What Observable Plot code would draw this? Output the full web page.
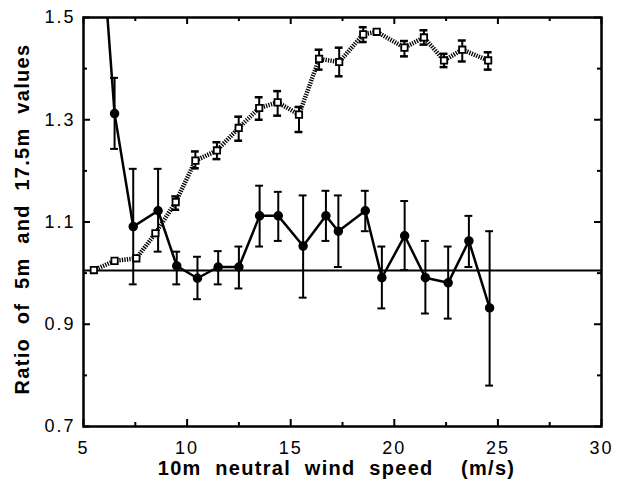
<!DOCTYPE html>
<html>
<head>
<meta charset="utf-8">
<script src="https://cdn.jsdelivr.net/npm/d3@7"></script>
<script src="https://cdn.jsdelivr.net/npm/@observablehq/plot@0.6"></script>
<style>
  body { margin: 0; background: #fff; }
  svg { display: block; }
</style>
</head>
<body>
<div id="chart"></div>
<script>
// Filled circles, solid line
const circX  = [5.5, 6.5, 7.4, 8.6, 9.5, 10.5, 11.5, 12.5, 13.5, 14.4, 15.6, 16.7, 17.3, 18.6, 19.4, 20.5, 21.5, 22.6, 23.6, 24.6];
const circY  = [1.86, 1.312, 1.091, 1.122, 1.014, 0.99, 1.012, 1.012, 1.112, 1.112, 1.053, 1.112, 1.082, 1.122, 0.991, 1.073, 0.991, 0.981, 1.063, 0.932];
const circHi = [null, 1.382, 1.204, 1.204, 1.042, 1.032, 1.043, 1.052, 1.171, 1.159, 1.152, 1.161, 1.152, 1.161, 1.052, 1.141, 1.063, 1.052, 1.112, 1.082];
const circLo = [null, 1.243, 0.978, 1.042, 0.978, 0.949, 0.978, 0.970, 1.052, 1.063, 0.952, 1.063, 1.012, 1.082, 0.931, 1.006, 0.921, 0.911, 1.012, 0.780];

// Open squares, dotted line
const sqX  = [5.5, 6.5, 7.55, 8.47, 9.45, 10.4, 11.44, 12.49, 13.48, 14.37, 15.4, 16.37, 17.34, 18.5, 19.15, 20.49, 21.43, 22.4, 23.28, 24.53];
const sqY  = [1.006, 1.024, 1.029, 1.078, 1.139, 1.220, 1.240, 1.284, 1.323, 1.334, 1.310, 1.419, 1.413, 1.467, 1.472, 1.441, 1.461, 1.416, 1.437, 1.416];
const sqHi = [null, null, null, null, 1.150, 1.238, 1.256, 1.306, 1.344, 1.356, 1.325, 1.437, 1.441, 1.481, null, 1.454, 1.475, 1.429, 1.455, 1.432];
const sqLo = [null, null, null, null, 1.124, 1.205, 1.223, 1.259, 1.300, 1.308, 1.276, 1.398, 1.385, 1.452, null, 1.424, 1.447, 1.403, 1.414, 1.398];

const refLine = [1.005];
const xMajor = [5, 10, 15, 20, 25, 30];
const xMinor = [7.5, 12.5, 17.5, 22.5, 27.5];
const yMajor = [0.7, 0.9, 1.1, 1.3, 1.5];
const yMinor = [0.8, 1.0, 1.2, 1.4];
const xTitle = "10m  neutral  wind  speed    (m/s)";
const yTitle = "Ratio  of  5m  and  17.5m  values";

const circles = circX.map((x, i) => ({x, y: circY[i], hi: circHi[i], lo: circLo[i]}));
const squares = sqX.map((x, i) => ({x, y: sqY[i], hi: sqHi[i], lo: sqLo[i]}));
const circErr = circles.filter(d => d.hi != null);
const sqErr = squares.filter(d => d.hi != null);
const capHalf = 0.19;

const W = 618, H = 489, mL = 83, mR = 17, mT = 17, mB = 63;
const innerH = H - mT - mB, innerW = W - mL - mR;
const majorLen = 7, minorLen = 4;

const chart = Plot.plot({
  width: W, height: H,
  marginLeft: mL, marginRight: mR, marginTop: mT, marginBottom: mB,
  x: {domain: [5, 30], axis: null},
  y: {domain: [0.7, 1.5], axis: null},
  style: {fontFamily: "Liberation Sans, Arial, sans-serif", fontSize: "18px", color: "#000", background: "#fff"},
  marks: [
    // tick labels
    Plot.text(xMajor, {x: d => d, frameAnchor: "bottom", dy: 22, lineAnchor: "middle", textAnchor: "middle", fontSize: 18}),
    Plot.text(yMajor, {y: d => d, text: d => d3.format(".1f")(d), frameAnchor: "left", dx: -8, lineAnchor: "middle", textAnchor: "end", fontSize: 18}),
    // inward tick marks
    Plot.tickX(xMajor, {x: d => d, insetTop: innerH - majorLen, stroke: "#000", strokeWidth: 2}),
    Plot.tickX(xMinor, {x: d => d, insetTop: innerH - minorLen, stroke: "#000", strokeWidth: 2}),
    Plot.tickX(xMajor, {x: d => d, insetBottom: innerH - majorLen, stroke: "#000", strokeWidth: 2}),
    Plot.tickX(xMinor, {x: d => d, insetBottom: innerH - minorLen, stroke: "#000", strokeWidth: 2}),
    Plot.tickY(yMajor, {y: d => d, insetRight: innerW - majorLen, stroke: "#000", strokeWidth: 2}),
    Plot.tickY(yMinor, {y: d => d, insetRight: innerW - minorLen, stroke: "#000", strokeWidth: 2}),
    Plot.tickY(yMajor, {y: d => d, insetLeft: innerW - majorLen, stroke: "#000", strokeWidth: 2}),
    Plot.tickY(yMinor, {y: d => d, insetLeft: innerW - minorLen, stroke: "#000", strokeWidth: 2}),
    Plot.frame({stroke: "#000", strokeWidth: 2.5}),
    // reference line
    Plot.ruleY(refLine, {y: d => d, stroke: "#000", strokeWidth: 2}),
    // dotted squares series
    Plot.line(squares, {x: "x", y: "y", stroke: "#000", strokeWidth: 4.5, strokeDasharray: "1.3,1.2", strokeLinecap: "butt", strokeLinejoin: "miter", clip: true}),
    Plot.ruleX(sqErr, {x: "x", y1: "lo", y2: "hi", stroke: "#000", strokeWidth: 2}),
    Plot.ruleY(sqErr, {y: "hi", x1: d => d.x - capHalf, x2: d => d.x + capHalf, stroke: "#000", strokeWidth: 2.5}),
    Plot.ruleY(sqErr, {y: "lo", x1: d => d.x - capHalf, x2: d => d.x + capHalf, stroke: "#000", strokeWidth: 2.5}),
    // solid circles series
    Plot.line(circles, {x: "x", y: "y", stroke: "#000", strokeWidth: 2.5, clip: true}),
    Plot.ruleX(circErr, {x: "x", y1: "lo", y2: "hi", stroke: "#000", strokeWidth: 2}),
    Plot.ruleY(circErr, {y: "hi", x1: d => d.x - capHalf, x2: d => d.x + capHalf, stroke: "#000", strokeWidth: 2}),
    Plot.ruleY(circErr, {y: "lo", x1: d => d.x - capHalf, x2: d => d.x + capHalf, stroke: "#000", strokeWidth: 2}),
    Plot.dot(circles, {x: "x", y: "y", r: 4, fill: "#000", stroke: "#000", clip: true}),
    Plot.dot(squares, {x: "x", y: "y", r: 3.6, symbol: "square", fill: "#fff", stroke: "#000", strokeWidth: 1.8}),
    // titles
    Plot.text([xTitle], {frameAnchor: "bottom", dx: -6, dy: 42, fontSize: 20, fontWeight: "bold", lineAnchor: "middle", textAnchor: "middle"}),
    Plot.text([yTitle], {frameAnchor: "left", dx: -61, dy: -3, rotate: -90, fontSize: 20, fontWeight: "bold", lineAnchor: "middle", textAnchor: "middle"})
  ]
});

const texts = d3.select(chart).selectAll('g[aria-label="text"]').nodes();
d3.selectAll(texts.slice(0, 2)).selectAll("text").style("letter-spacing", "2px");
d3.selectAll(texts.slice(2)).selectAll("text")
  .style("white-space", "pre").attr("xml:space", "preserve").style("letter-spacing", "1.3px");

document.getElementById("chart").appendChild(chart);
</script>
</body>
</html>
